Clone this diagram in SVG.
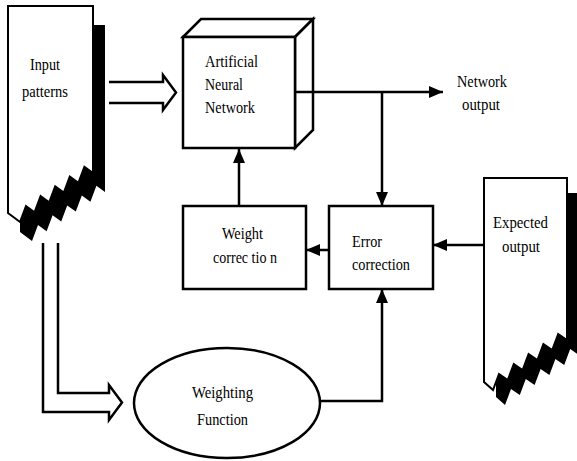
<svg xmlns="http://www.w3.org/2000/svg" xmlns:xlink="http://www.w3.org/1999/xlink" width="577" height="461" viewBox="0 0 577 461">
<style>
.shape{fill:#fff;stroke:#000;stroke-width:2.5;stroke-linejoin:miter}
.doc{fill:#fff;stroke:#000;stroke-width:2}
.shadow{fill:#000;stroke:none}
.line{fill:none;stroke:#000;stroke-width:2.5}
.hollow{fill:none;stroke:#000;stroke-width:2.5;stroke-linejoin:miter}
text{font-family:"Liberation Serif","Times New Roman",serif;font-size:17px;fill:#000}
</style>
<defs>
<marker id="ah" markerUnits="userSpaceOnUse" markerWidth="15" markerHeight="12" refX="14" refY="6" orient="auto">
<path d="M0,0 L14,6 L0,12 z" fill="#000"/>
</marker>
<polygon id="docIn" points="8,6 93,6 93,173 84.4,166.8 78.4,182.8 69.8,176.6 63.8,192.6 55.2,186.4 49.2,202.4 40.6,196.2 34.6,212.2 26,206 20,222 8,213"/>
<polygon id="docEx" points="484,178 567,178 567,340 558.2,334 552.2,350 543.4,344 537.4,360 528.6,354 522.6,370 513.8,364 507.8,380 499,374 493,390 484,382"/>
</defs>

<g id="input-patterns">
<use xlink:href="#docIn" class="shadow" transform="translate(12,19)"/>
<use xlink:href="#docIn" class="doc"/>
<text x="30" y="70" textLength="30" lengthAdjust="spacingAndGlyphs">Input</text>
<text x="22" y="97" textLength="46" lengthAdjust="spacingAndGlyphs">patterns</text>
</g>

<g id="ann">
<polygon class="shape" points="183,37 201,19 313,19 295,37"/>
<polygon class="shape" points="295,37 313,19 313,130 295,148"/>
<rect class="shape" x="183" y="37" width="112" height="111"/>
<text x="205" y="67" textLength="53" lengthAdjust="spacingAndGlyphs">Artificial</text>
<text x="205" y="90" textLength="38" lengthAdjust="spacingAndGlyphs">Neural</text>
<text x="205" y="113" textLength="50" lengthAdjust="spacingAndGlyphs">Network</text>
</g>

<g id="network-output">
<text x="457" y="87" textLength="50" lengthAdjust="spacingAndGlyphs">Network</text>
<text x="462" y="110" textLength="38" lengthAdjust="spacingAndGlyphs">output</text>
</g>

<g id="weight-correction">
<rect class="shape" x="183" y="206" width="123" height="83"/>
<text x="222" y="239" textLength="41" lengthAdjust="spacingAndGlyphs">Weight</text>
<text x="213" y="263" textLength="64" lengthAdjust="spacingAndGlyphs">correc tio n</text>
</g>

<g id="error-correction">
<rect class="shape" x="329" y="206" width="104" height="83"/>
<text x="352" y="247" textLength="30" lengthAdjust="spacingAndGlyphs">Error</text>
<text x="352" y="270" textLength="58" lengthAdjust="spacingAndGlyphs">correction</text>
</g>

<g id="expected-output">
<use xlink:href="#docEx" class="shadow" transform="translate(12,15)"/>
<use xlink:href="#docEx" class="doc"/>
<text x="493" y="228" textLength="55" lengthAdjust="spacingAndGlyphs">Expected</text>
<text x="502" y="252" textLength="38" lengthAdjust="spacingAndGlyphs">output</text>
</g>

<g id="weighting-function">
<ellipse class="shape" cx="227" cy="403" rx="93" ry="55"/>
<text x="192" y="398" textLength="61" lengthAdjust="spacingAndGlyphs">Weighting</text>
<text x="197" y="425" textLength="51" lengthAdjust="spacingAndGlyphs">Function</text>
</g>

<g id="connectors">
<polyline class="hollow" points="109,82 163,82 163,75 176,92.5 163,110 163,103 109,103"/>
<polyline class="hollow" points="43,243 43,412 109,412 109,420 122,402.5 109,385 109,393 58,393 58,243"/>
<line class="line" x1="295" y1="92" x2="443" y2="92" marker-end="url(#ah)"/>
<line class="line" x1="382" y1="92" x2="382" y2="206" marker-end="url(#ah)"/>
<line class="line" x1="239" y1="206" x2="239" y2="149" marker-end="url(#ah)"/>
<line class="line" x1="329" y1="250" x2="306" y2="250" marker-end="url(#ah)"/>
<line class="line" x1="484" y1="245" x2="433" y2="245" marker-end="url(#ah)"/>
<polyline class="line" points="320,401 382,401 382,289" marker-end="url(#ah)"/>
</g>
</svg>
